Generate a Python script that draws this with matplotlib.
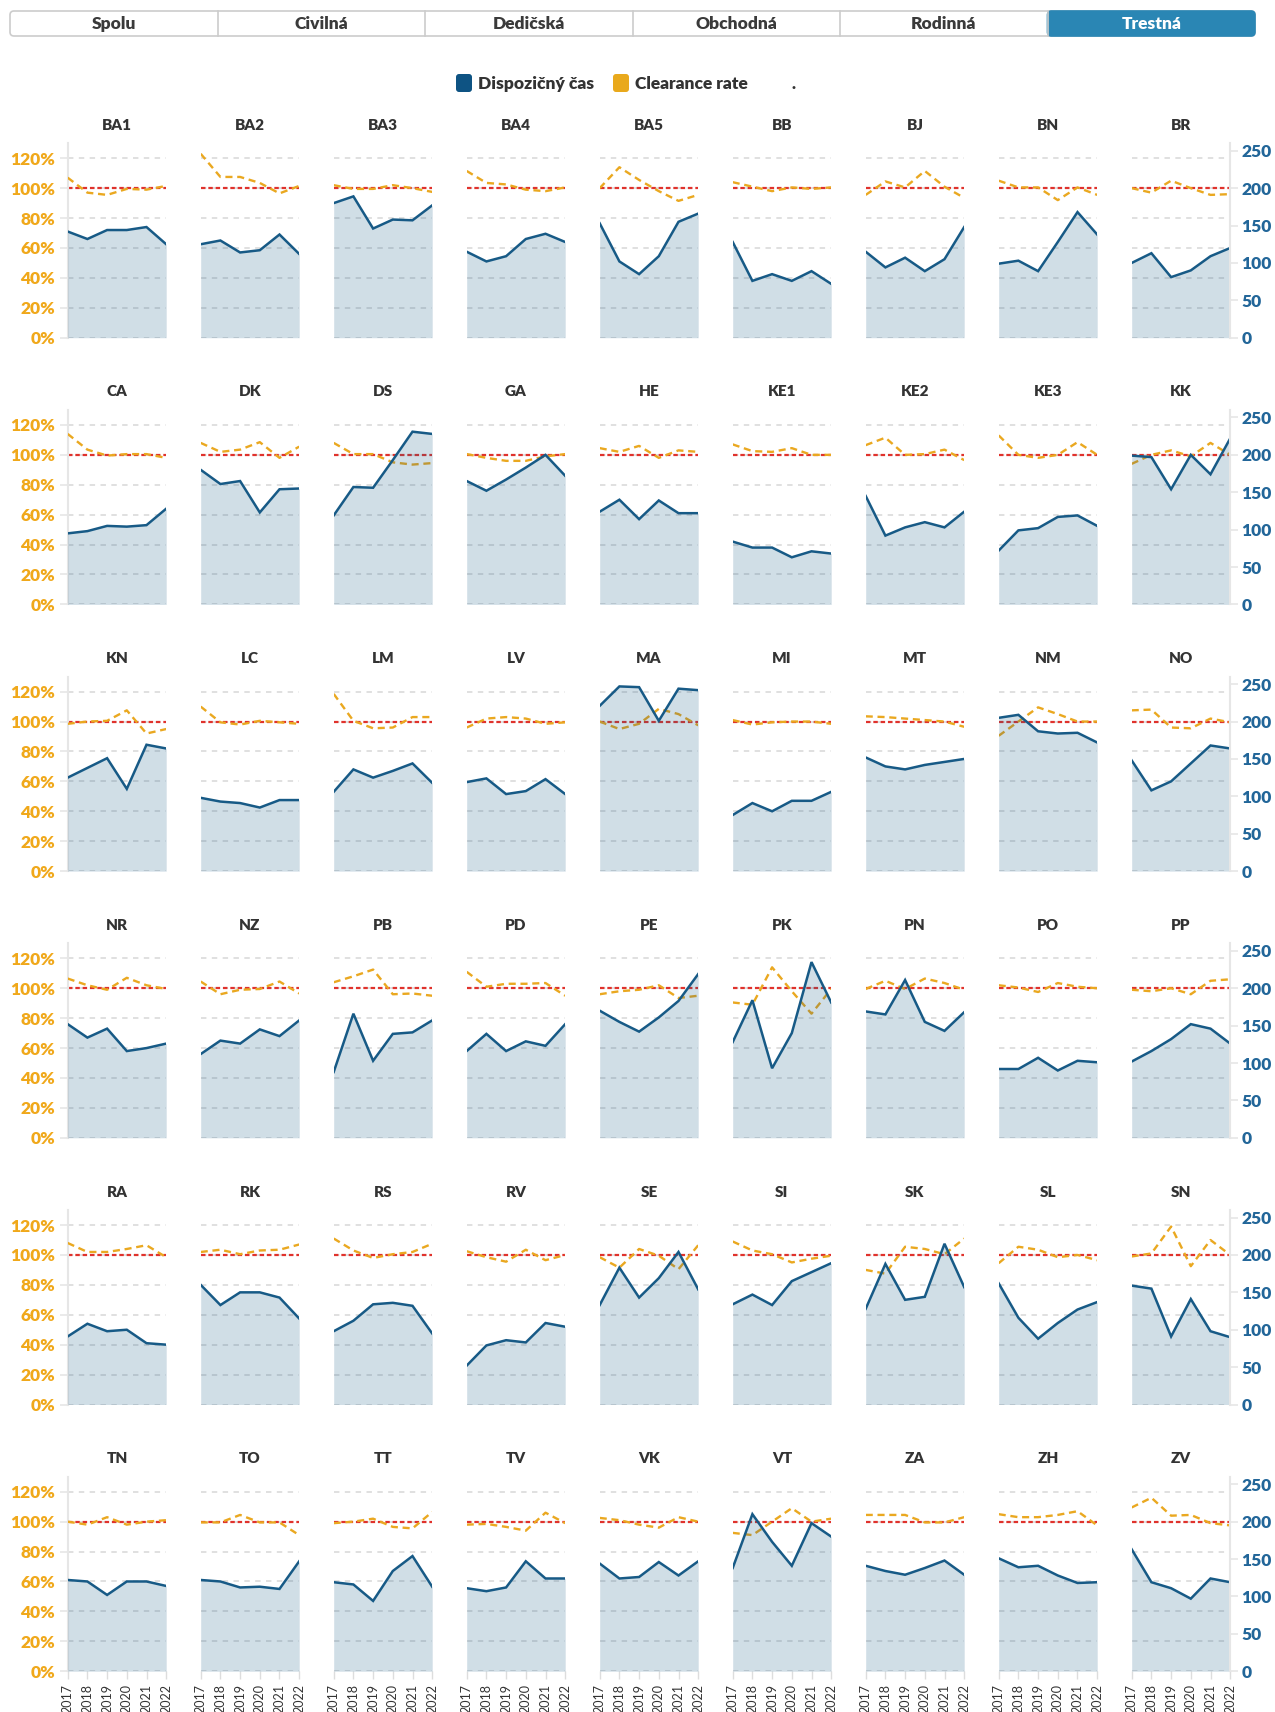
import matplotlib.pyplot as plt
from matplotlib.patches import FancyBboxPatch

plt.rcParams['font.family'] = ['Lato', 'DejaVu Sans']
plt.rcParams['font.weight'] = 'heavy'

# courts in grid order, 9 per row
courts = ['BA1', 'BA2', 'BA3', 'BA4', 'BA5', 'BB', 'BJ', 'BN', 'BR',
          'CA', 'DK', 'DS', 'GA', 'HE', 'KE1', 'KE2', 'KE3', 'KK',
          'KN', 'LC', 'LM', 'LV', 'MA', 'MI', 'MT', 'NM', 'NO',
          'NR', 'NZ', 'PB', 'PD', 'PE', 'PK', 'PN', 'PO', 'PP',
          'RA', 'RK', 'RS', 'RV', 'SE', 'SI', 'SK', 'SL', 'SN',
          'TN', 'TO', 'TT', 'TV', 'VK', 'VT', 'ZA', 'ZH', 'ZV']
years = [2017, 2018, 2019, 2020, 2021, 2022]

# dispozicny cas (days), right axis
disposition_time = [
    [142, 132, 144, 144, 148, 125], [125, 130, 114, 117, 138, 112], [180, 189, 146, 158, 157, 177],
    [115, 102, 109, 132, 139, 128], [153, 102, 85, 109, 155, 166], [128, 76, 85, 76, 89, 72],
    [115, 94, 107, 89, 105, 148], [99, 103, 89, 128, 168, 138], [100, 113, 81, 90, 109, 120],
    [95, 98, 105, 104, 106, 128], [180, 161, 165, 123, 154, 155], [119, 157, 156, 193, 231, 228],
    [165, 152, 167, 183, 200, 172], [124, 140, 114, 139, 122, 122], [84, 76, 76, 63, 71, 68],
    [145, 92, 103, 110, 103, 124], [72, 99, 102, 117, 119, 105], [199, 197, 154, 200, 174, 222],
    [125, 138, 151, 110, 169, 164], [98, 93, 91, 85, 95, 95], [106, 136, 125, 134, 144, 118],
    [119, 124, 103, 107, 123, 103], [221, 247, 246, 201, 244, 242], [75, 91, 80, 94, 94, 106],
    [152, 140, 136, 142, 146, 150], [205, 209, 187, 184, 185, 172], [148, 108, 120, 144, 168, 164],
    [152, 134, 146, 116, 120, 126], [112, 130, 126, 145, 136, 157], [88, 166, 103, 139, 141, 157],
    [116, 139, 116, 129, 123, 152], [170, 155, 142, 161, 183, 219], [128, 184, 93, 140, 235, 181],
    [169, 165, 211, 155, 143, 168], [92, 92, 107, 90, 103, 101], [102, 116, 132, 152, 146, 126],
    [91, 108, 98, 100, 82, 80], [160, 133, 150, 150, 143, 115], [98, 112, 134, 136, 132, 95],
    [52, 79, 86, 83, 109, 104], [133, 183, 143, 169, 204, 154], [134, 147, 133, 165, 177, 189],
    [128, 188, 140, 144, 215, 157], [162, 116, 88, 109, 127, 137], [159, 155, 91, 141, 98, 90],
    [122, 120, 102, 120, 120, 114], [122, 120, 112, 113, 110, 147], [119, 116, 94, 134, 154, 113],
    [111, 107, 112, 147, 124, 124], [144, 124, 126, 146, 128, 147], [138, 210, 173, 141, 198, 180],
    [141, 134, 129, 138, 148, 129], [151, 139, 141, 128, 118, 119], [163, 119, 111, 97, 124, 119],
]

# clearance rate (%), left axis
clearance_rate = [
    [107, 97, 95.5, 99.5, 99, 101.5], [123, 107.5, 107.5, 103.5, 96.5, 101.5], [102, 99.5, 99.5, 102, 100, 97.5],
    [111.5, 103.5, 102.5, 99, 98, 100.5], [100, 114, 105.5, 98, 91.5, 95.5], [104, 101, 98, 100.5, 99.5, 100.5],
    [95.5, 104.5, 100.5, 111.5, 101, 93.5], [105, 100.5, 100.5, 92, 100.5, 95.5], [100, 97, 105, 100, 95.5, 96],
    [114, 103.5, 99.5, 100.5, 100.5, 98], [108, 102, 103.5, 108.5, 98, 105.5], [108, 100.5, 100.5, 95, 93.5, 94.5],
    [100.5, 98, 96, 96, 99, 100.5], [104.5, 102, 106, 98, 103, 102], [107, 102.5, 102, 104.5, 100, 100],
    [106.5, 111.5, 100, 100.5, 103.5, 96.5], [113, 100, 98, 100, 108.5, 100], [94, 100, 103, 99, 108, 100],
    [98.5, 100, 100.5, 107.5, 92, 95], [110, 99.5, 98, 100.5, 99.5, 98.5], [118.5, 100.5, 95.5, 96, 103, 103],
    [96, 102, 103, 102, 98.5, 99.5], [100, 95, 98.5, 108.5, 105, 97.5], [101, 98, 99.5, 100, 100, 98.5],
    [103.5, 103, 102, 101, 100, 96.5], [90.5, 100, 109.5, 105, 100, 100], [107.5, 108, 96, 95.5, 102, 99.5],
    [106.5, 102, 99, 107, 102, 99.5], [104.5, 96, 99, 99.5, 104.5, 96.5], [104, 108, 112.5, 96, 96.5, 95],
    [111, 101, 103, 103, 103.5, 95], [96, 98, 99, 102, 93.5, 95], [90.5, 89, 114, 98, 83, 99.5],
    [99.5, 105, 99.5, 106.5, 103.5, 99], [102, 100.5, 97.5, 103.5, 101, 100], [99, 98, 100, 96, 105, 106],
    [108, 102, 102, 104, 106.5, 98.5], [102, 103.5, 100.5, 103, 103.5, 107], [111, 103, 98, 100.5, 102, 107.5],
    [102.5, 98.5, 95.5, 103.5, 96.5, 100], [98.5, 91.5, 104, 99.5, 90.5, 106.5], [109, 103, 100.5, 95, 97.5, 99.5],
    [90, 87.5, 105.5, 104, 100.5, 111], [94.5, 105.5, 103.5, 98.5, 100, 96.5], [99, 101, 119, 92.5, 110, 100],
    [100, 98, 103, 98, 100, 101], [99.5, 99.5, 104.5, 99.5, 99.5, 91], [99, 100, 102, 96.5, 95.5, 106.5],
    [98, 98.5, 96.5, 94, 106, 99], [102.5, 101, 98, 96, 103, 100], [92.5, 91, 100, 109, 100, 102],
    [104.5, 104.5, 104.5, 99.5, 99.5, 103], [105, 103, 103, 104.5, 107, 97.5], [109.5, 116, 104, 104.5, 99, 97.5],
]

tabs = ['Spolu', 'Civilná', 'Dedičská', 'Obchodná', 'Rodinná', 'Trestná']

BLUE = '#175a86'
ORANGE = '#eaa820'
RED = '#e0322c'
GRID = '#dddddd'
SPINE = '#e6e6e6'

W, H = 1275, 1712
fig = plt.figure(figsize=(W / 100, H / 100), dpi=100)


def px_box(x0, y0, w, h):
    return [x0 / W, 1 - (y0 + h) / H, w / W, h / H]


ncols, nrows = 9, 6
pw, ph = 98.5, 194.4
for i, name in enumerate(courts):
    r, c = divmod(i, ncols)
    ax = fig.add_axes(px_box(67.7 + 133 * c, 143.3 + 266.7 * r, pw, ph))
    ax2 = ax.twinx()

    ax.set_ylim(0, 130)
    ax2.set_ylim(0, 260)
    ax.set_xlim(years[0], years[-1])

    ax.set_yticks(range(0, 121, 20))
    ax.set_yticklabels([f'{v}%' for v in range(0, 121, 20)])
    ax.yaxis.grid(True, color=GRID, lw=1.3, linestyle=(0, (3, 3)))
    ax.set_axisbelow(True)

    ax.axhline(100, color=RED, lw=1.6, linestyle=(0, (2, 1.3)), zorder=2)
    ax.plot(years, clearance_rate[i], color=ORANGE, lw=1.7,
            linestyle=(0, (3, 2)), zorder=3)

    ax2.fill_between(years, disposition_time[i], color=BLUE, alpha=0.2, lw=0)
    ax2.plot(years, disposition_time[i], color=BLUE, lw=1.8,
             solid_joinstyle='miter')
    ax2.set_yticks(range(0, 251, 50))

    for a in (ax, ax2):
        for s in a.spines.values():
            s.set_visible(False)

    if c == 0:
        ax.spines['left'].set_visible(True)
        ax.spines['left'].set_color(SPINE)
        ax.spines['left'].set_linewidth(1.5)
        ax.tick_params(axis='y', length=6, width=1.2, color=SPINE, pad=3,
                       labelsize=12.5, labelcolor='#f0a81a')
    else:
        ax.tick_params(axis='y', left=False, labelleft=False)

    if c == ncols - 1:
        ax2.spines['right'].set_visible(True)
        ax2.spines['right'].set_color(SPINE)
        ax2.spines['right'].set_linewidth(1.5)
        ax2.tick_params(axis='y', length=6, width=1.2, color=SPINE, pad=2,
                        labelsize=12.5, labelcolor='#226699')
    else:
        ax2.tick_params(axis='y', right=False, labelright=False)

    ax.set_xticks(years)
    if r == nrows - 1:
        ax.set_xticklabels([str(y) for y in years], rotation=90)
        ax.tick_params(axis='x', length=6, width=1, color='#dddddd', pad=3,
                       labelsize=9, labelcolor='#333333')
        for lbl in ax.get_xticklabels():
            lbl.set_fontweight('normal')
    else:
        ax.tick_params(axis='x', bottom=False, labelbottom=False)

    ax.text(0.5, 1 + 18 / ph, name, transform=ax.transAxes, ha='center',
            va='center', fontsize=11, color='#333333')

# header: tab bar and legend, drawn in pixel coordinates
top = fig.add_axes([0, 0, 1, 1])
top.set_xlim(0, W)
top.set_ylim(H, 0)
top.axis('off')

bx, by, bw, bh = 10, 11, 1245, 25
tw = bw / len(tabs)
top.add_patch(FancyBboxPatch((bx, by), bw, bh, boxstyle='round,pad=0,rounding_size=4',
                             fc='white', ec='#cccccc', lw=1.2))
top.add_patch(FancyBboxPatch((bx + tw * 5, by), tw, bh, boxstyle='round,pad=0,rounding_size=4',
                             fc='#2a86b4', ec='#2a86b4', lw=1.2))
for k, t in enumerate(tabs):
    if k > 0:
        top.plot([bx + tw * k] * 2, [by, by + bh], color='#cccccc', lw=1.2)
    top.text(bx + tw * (k + 0.5), by + bh / 2 + 0.5, t, ha='center', va='center',
             fontsize=12.5, color='white' if k == 5 else '#3a3a3a')

top.add_patch(FancyBboxPatch((456, 74), 16, 18, boxstyle='round,pad=0,rounding_size=3',
                             fc='#0e5383', ec='none'))
top.text(478, 83.5, 'Dispozičný čas', ha='left', va='center', fontsize=12.5, color='#333333')
top.add_patch(FancyBboxPatch((613, 74), 16, 18, boxstyle='round,pad=0,rounding_size=3',
                             fc='#e9a91c', ec='none'))
top.text(635, 83.5, 'Clearance rate', ha='left', va='center', fontsize=12.5, color='#333333')
top.text(792, 83.5, '.', ha='left', va='center', fontsize=12.5, color='#333333')

fig.savefig('out.png', dpi=100)
